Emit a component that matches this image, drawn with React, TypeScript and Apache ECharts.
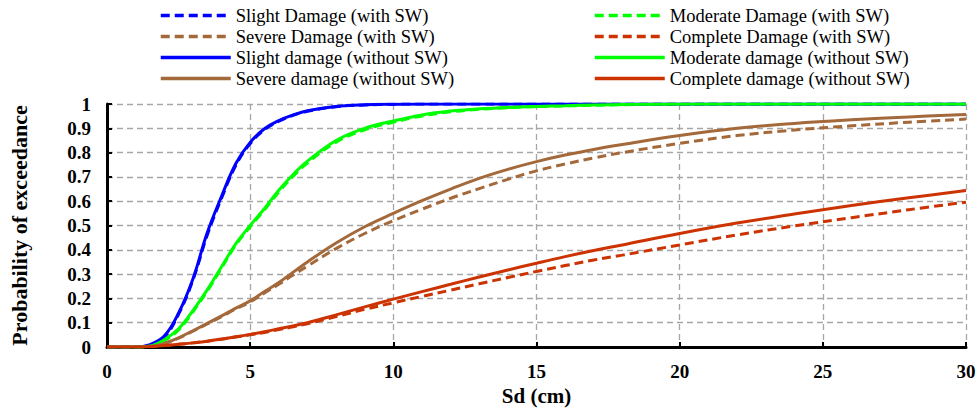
import React, { useEffect, useRef } from "react";
import * as echarts from "echarts";

const sd = [0, 0.5, 1, 1.5, 2, 2.5, 3, 3.5, 4, 4.5, 5, 5.5, 6, 6.5, 7, 8, 9, 10, 11, 12, 13, 14, 15, 16, 17, 18, 20, 22, 24, 26, 28, 30];

const slightWith = [0, 0, 0, 0.008, 0.04, 0.135, 0.275, 0.46, 0.612, 0.748, 0.837, 0.894, 0.929, 0.953, 0.97, 0.989, 0.996, 0.999, 1, 1, 1, 1, 1, 1, 1, 1, 1, 1, 1, 1, 1, 1];
const moderateWith = [0, 0, 0, 0.003, 0.027, 0.07, 0.145, 0.23, 0.325, 0.42, 0.495, 0.565, 0.638, 0.703, 0.757, 0.843, 0.894, 0.925, 0.951, 0.968, 0.978, 0.985, 0.989, 0.992, 0.995, 0.997, 0.999, 1, 1, 1, 1, 1];
const severeWith = [0, 0, 0, 0.002, 0.015, 0.037, 0.065, 0.095, 0.125, 0.157, 0.185, 0.222, 0.258, 0.296, 0.333, 0.405, 0.467, 0.52, 0.567, 0.612, 0.652, 0.69, 0.725, 0.753, 0.778, 0.8, 0.838, 0.87, 0.893, 0.91, 0.925, 0.938];
const completeWith = [0, 0, 0, 0.002, 0.006, 0.011, 0.017, 0.024, 0.032, 0.041, 0.05, 0.06, 0.072, 0.083, 0.096, 0.125, 0.155, 0.182, 0.208, 0.234, 0.26, 0.286, 0.311, 0.335, 0.358, 0.378, 0.42, 0.461, 0.498, 0.532, 0.565, 0.596];

const slightWithout = [0, 0, 0, 0.01, 0.045, 0.14, 0.28, 0.47, 0.62, 0.755, 0.842, 0.898, 0.932, 0.955, 0.972, 0.99, 0.997, 0.999, 1, 1, 1, 1, 1, 1, 1, 1, 1, 1, 1, 1, 1, 1];
const moderateWithout = [0, 0, 0, 0.004, 0.03, 0.075, 0.15, 0.235, 0.33, 0.425, 0.5, 0.57, 0.645, 0.71, 0.765, 0.85, 0.9, 0.93, 0.955, 0.971, 0.98, 0.986, 0.99, 0.993, 0.996, 0.998, 1, 1, 1, 1, 1, 1];
const severeWithout = [0, 0, 0, 0.002, 0.015, 0.038, 0.067, 0.097, 0.128, 0.16, 0.19, 0.228, 0.265, 0.308, 0.35, 0.428, 0.495, 0.55, 0.602, 0.65, 0.694, 0.731, 0.763, 0.79, 0.813, 0.833, 0.87, 0.9, 0.92, 0.935, 0.947, 0.957];
const completeWithout = [0, 0, 0, 0.002, 0.006, 0.011, 0.017, 0.024, 0.033, 0.042, 0.052, 0.063, 0.075, 0.087, 0.1, 0.132, 0.165, 0.197, 0.228, 0.258, 0.288, 0.317, 0.345, 0.372, 0.397, 0.42, 0.467, 0.51, 0.547, 0.582, 0.614, 0.644];

const legendLeft = ["Slight Damage (with SW)", "Severe Damage (with SW)", "Slight damage (without SW)", "Severe damage (without SW)"];
const legendRight = ["Moderate Damage (with SW)", "Complete Damage (with SW)", "Moderate damage (without SW)", "Complete damage (without SW)"];

const BLUE = "#0000FF";
const GREEN = "#00FF00";
const BROWN = "#A4693B";
const RED = "#CC3300";
const FONT = "Times New Roman, Liberation Serif, serif";

const pairs = (ys: number[]) => sd.map((x, i) => [x, ys[i]]);

export default function App() {
  const ref = useRef<HTMLDivElement>(null);
  useEffect(() => {
    if (!ref.current) return;
    const chart = echarts.init(ref.current, undefined, { renderer: "svg" });
    const mk = (name: string, ys: number[], color: string, dashed: boolean) => ({
      name,
      type: "line",
      data: pairs(ys),
      smooth: 0.4,
      showSymbol: false,
      symbol: "none",
      lineStyle: { color, width: 3, type: dashed ? [9, 5] : "solid" },
      itemStyle: { color },
      z: dashed ? 2 : 3,
    });
    const legendCommon = {
      orient: "vertical",
      top: 0,
      itemWidth: 70,
      itemHeight: 21,
      itemGap: 0,
      itemStyle: { opacity: 0 },
      lineStyle: { width: 3.5 },
      textStyle: { fontFamily: FONT, fontSize: 18.5, color: "#000", lineHeight: 21 },
    };
    chart.setOption({
      animation: false,
      backgroundColor: "#fff",
      grid: { left: 107, right: 13, top: 104, bottom: 65, containLabel: false, outerBoundsMode: "none" },
      legend: [
        { ...legendCommon, left: 154, data: legendLeft },
        { ...legendCommon, left: 588, data: legendRight },
      ],
      xAxis: {
        type: "value",
        min: 0,
        max: 30,
        interval: 5,
        name: "Sd (cm)",
        nameLocation: "middle",
        nameGap: 37,
        nameTextStyle: { fontFamily: FONT, fontSize: 21, fontWeight: "bold", color: "#000" },
        axisLine: { lineStyle: { color: "#000", width: 3 } },
        axisTick: { inside: true, length: 5, lineStyle: { color: "#000", width: 2 } },
        axisLabel: { fontFamily: FONT, fontSize: 19, fontWeight: "bold", color: "#000", margin: 15 },
        splitLine: { show: true, lineStyle: { color: "#A6A6A6", width: 1.3, type: [6, 4] } },
      },
      yAxis: {
        type: "value",
        min: 0,
        max: 1,
        interval: 0.1,
        name: "Probability of exceedance",
        nameLocation: "middle",
        nameGap: 77,
        nameTextStyle: { fontFamily: FONT, fontSize: 22, fontWeight: "bold", color: "#000" },
        axisLine: { show: true, lineStyle: { color: "#000", width: 3 } },
        axisTick: { show: true, inside: true, length: 5, lineStyle: { color: "#000", width: 2 } },
        axisLabel: {
          fontFamily: FONT,
          fontSize: 19,
          fontWeight: "bold",
          color: "#000",
          margin: 16,
          formatter: (v: number) => String(Math.round(v * 10) / 10),
        },
        splitLine: { show: true, lineStyle: { color: "#A6A6A6", width: 1.3, type: [6, 4] } },
      },
      series: [
        mk("Slight Damage (with SW)", slightWith, BLUE, true),
        mk("Moderate Damage (with SW)", moderateWith, GREEN, true),
        mk("Severe Damage (with SW)", severeWith, BROWN, true),
        mk("Complete Damage (with SW)", completeWith, RED, true),
        mk("Slight damage (without SW)", slightWithout, BLUE, false),
        mk("Moderate damage (without SW)", moderateWithout, GREEN, false),
        mk("Severe damage (without SW)", severeWithout, BROWN, false),
        mk("Complete damage (without SW)", completeWithout, RED, false),
      ],
    });
    return () => chart.dispose();
  }, []);
  return (
    <div
      ref={ref}
      style={{ position: "fixed", left: 0, top: 0, width: 979, height: 412, background: "#fff" }}
    />
  );
}
